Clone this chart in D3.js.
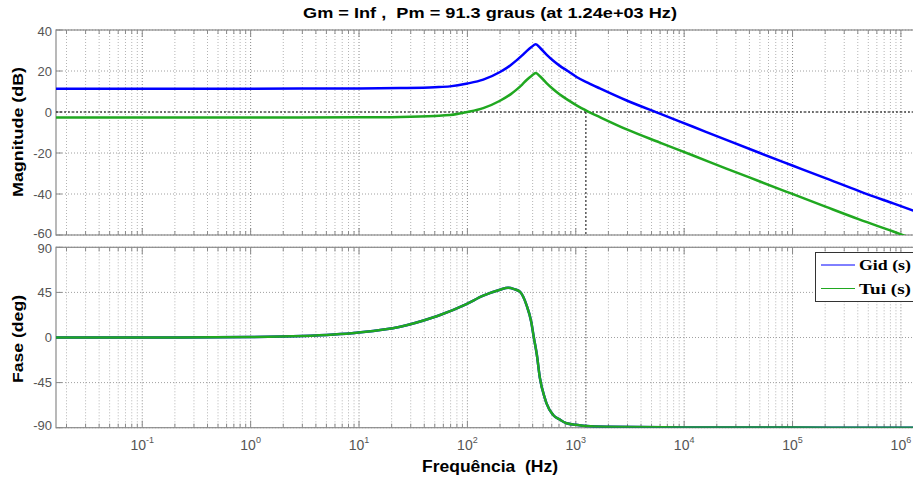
<!DOCTYPE html>
<html>
<head>
<meta charset="utf-8">
<title>Bode</title>
<script src="https://d3js.org/d3.v7.min.js"></script>
<style>
    body { margin: 0px; background: #fff; }
    text { font-family: "Liberation Sans", Arial, sans-serif; }
</style>
</head>
<body>
<script>
    // values (Hz, dB, degrees)
    var magFreq = [0.016, 1, 10, 24, 50, 69, 100, 140, 200, 250, 284, 320, 352, 390, 428, 470, 537, 620, 713, 850,
                   1017, 1300, 1667, 2950, 5970, 12100, 24500, 50000, 101000, 204000, 417000, 850000, 1300000, 1500000];
    var gidMag = [11.4, 11.4, 11.5, 11.7, 12.1, 12.5, 13.9, 15.8, 19.5, 22.8, 25.2, 27.6, 29.7, 31.7, 33, 31.2, 28, 25.0, 22.5, 19.9,
                  17.1, 14.2, 11.5, 5.6, -0.8, -7.2, -13.6, -20, -26.2, -32.4, -38.7, -44.6, -48.1, -49.3];
    var tuiMag = [-2.7, -2.7, -2.6, -2.4, -1.9, -1.5, 0, 1.9, 5.5, 8.6, 10.9, 13.4, 15.6, 17.6, 19, 17.3, 14.1, 11.1, 8.5, 5.8,
                  3.2, 0.2, -2.5, -8.5, -14.9, -21.2, -27.6, -33.9, -40.1, -46.3, -52.5, -58.3, -61.9, -63.1];

    var phaseFreq = [0.016, 0.1, 1, 3, 9.5, 24, 48, 56, 98, 140, 200, 238, 270, 305, 352, 388, 410, 437, 466, 519,
                     537, 619, 713, 822, 1000, 1260, 2000, 10000, 100000, 1500000];
    var gidPhase = [0, 0.05, 0.5, 1.5, 4.8, 10.8, 20, 22.5, 33.4, 41.7, 47.7, 49.6, 48.3, 45.7, 32, 15.8, 0, -17, -40, -60.7,
                    -65.7, -77.3, -82, -85.6, -87, -88.3, -89, -89.7, -89.9, -90];
    // both phase curves lie on top of each other in the picture
    var tuiPhase = [0, 0.05, 0.5, 1.5, 4.8, 10.8, 20, 22.5, 33.4, 41.7, 47.7, 49.6, 48.3, 45.7, 32, 15.8, 0, -17, -40, -60.7,
                    -65.7, -77.3, -82, -85.6, -87, -88.3, -89, -89.7, -89.9, -90];

    var magTicks = [-60, -40, -20, 0, 20, 40];
    var phaseTicks = [-90, -45, 0, 45, 90];
    var decadeLabels = [-1, 0, 1, 2, 3, 4, 5, 6];
    var crossFreq = 1240;
    var seriesNames = ["Gid (s)", "Tui (s)"];
    var seriesColors = ["#0000ff", "#20a820"];

    var left = 56, right = 920;

    var svg = d3.select("body").append("svg")
        .attr("width", 913)
        .attr("height", 482);

    var x = d3.scaleLog().domain([0.016, 1.5e6]).range([left, right]);
    var yMag = d3.scaleLinear().domain([-60, 40]).range([235, 30]);
    var yPh = d3.scaleLinear().domain([-90, 90]).range([427.7, 247.3]);

    // 1..9 x 10^k inside the domain
    var gridFreqs = [];
    for (var k = -2; k <= 6; k++) {
        for (var m = 1; m <= 9; m++) {
            var f = m * Math.pow(10, k);
            if (f >= 0.016 && f <= 1.5e6) gridFreqs.push({f: f, major: m == 1});
        }
    }

    function drawPanel(y, ticks, id) {
        var bottom = y.range()[0], top = y.range()[1];
        var g = svg.append("g");

        svg.append("clipPath").attr("id", id)
            .append("rect").attr("x", left).attr("y", top)
            .attr("width", right - left).attr("height", bottom - top);

        g.selectAll(".vg").data(gridFreqs).join("line")
            .attr("x1", d => x(d.f)).attr("x2", d => x(d.f))
            .attr("y1", top).attr("y2", bottom)
            .attr("stroke", d => d.major ? "#8a8a8a" : "#b4b4b4")
            .attr("stroke-dasharray", "1,2");

        g.selectAll(".hg").data(ticks).join("line")
            .attr("x1", left).attr("x2", right)
            .attr("y1", d => y(d)).attr("y2", d => y(d))
            .attr("stroke", "#a0a0a0")
            .attr("stroke-dasharray", "1,2");

        // tick marks, top and bottom, inside the box
        [top, bottom].forEach(function(edge) {
            var dir = edge == top ? 1 : -1;
            g.selectAll(null).data(gridFreqs).join("line")
                .attr("x1", d => x(d.f)).attr("x2", d => x(d.f))
                .attr("y1", edge).attr("y2", d => edge + dir * (d.major ? 7 : 4))
                .attr("stroke", "#8a8a8a");
        });
        g.selectAll(".yt").data(ticks).join("line")
            .attr("x1", left).attr("x2", left + 6)
            .attr("y1", d => y(d)).attr("y2", d => y(d))
            .attr("stroke", "#8a8a8a");

        // lowest label sits a little higher, top label a little lower (they meet between panels)
        g.selectAll(".yl").data(ticks).join("text")
            .attr("x", 52)
            .attr("y", (d, i) => y(d) + (i == 0 ? 2.5 : i == ticks.length - 1 ? 6 : 4.5))
            .attr("text-anchor", "end")
            .attr("font-size", 13)
            .attr("fill", "#555")
            .text(d => d);

        g.append("rect")
            .attr("x", left).attr("y", top)
            .attr("width", right - left).attr("height", bottom - top)
            .attr("fill", "none")
            .attr("stroke", "#8a8a8a")
            .attr("stroke-width", 1.2);
        return g;
    }

    var gMag = drawPanel(yMag, magTicks, "clipMag");
    var gPh = drawPanel(yPh, phaseTicks, "clipPh");

    // margin markers (0 dB line and crossover frequency)
    gMag.append("line")
        .attr("x1", left).attr("x2", right)
        .attr("y1", yMag(0)).attr("y2", yMag(0))
        .attr("stroke", "#000").attr("stroke-dasharray", "2,2");
    gMag.append("line")
        .attr("x1", x(crossFreq)).attr("x2", x(crossFreq))
        .attr("y1", yMag(0)).attr("y2", yMag(-60))
        .attr("stroke", "#000").attr("stroke-dasharray", "2,2");
    gPh.append("line")
        .attr("x1", x(crossFreq)).attr("x2", x(crossFreq))
        .attr("y1", yPh(90)).attr("y2", yPh(-90))
        .attr("stroke", "#000").attr("stroke-dasharray", "1,2");

    function drawCurve(g, clip, freqs, vals, y, color) {
        var line = d3.line()
            .x(d => x(d[0]))
            .y(d => y(d[1]))
            .curve(d3.curveMonotoneX);
        g.append("path")
            .datum(d3.zip(freqs, vals))
            .attr("clip-path", "url(#" + clip + ")")
            .attr("d", line)
            .attr("fill", "none")
            .attr("stroke", color)
            .attr("stroke-width", 2.5);
    }

    drawCurve(gMag, "clipMag", magFreq, gidMag, yMag, seriesColors[0]);
    drawCurve(gMag, "clipMag", magFreq, tuiMag, yMag, seriesColors[1]);
    drawCurve(gPh, "clipPh", phaseFreq, gidPhase, yPh, seriesColors[0]);
    drawCurve(gPh, "clipPh", phaseFreq, tuiPhase, yPh, seriesColors[1]);

    // x tick labels 10^n
    var xl = svg.selectAll(".xl").data(decadeLabels).join("text")
        .attr("x", d => x(Math.pow(10, d)))
        .attr("y", 450)
        .attr("text-anchor", "middle")
        .attr("fill", "#555")
        .attr("font-size", 14);
    xl.append("tspan").text("10");
    xl.append("tspan").attr("dy", -7).attr("font-size", 9).text(d => d);

    // titles
    svg.append("text")
        .attr("x", 490).attr("y", 18)
        .attr("text-anchor", "middle")
        .style("white-space", "pre")
        .attr("font-size", 15).attr("font-weight", "bold")
        .attr("textLength", 374).attr("lengthAdjust", "spacingAndGlyphs")
        .text("Gm = Inf ,  Pm = 91.3 graus (at 1.24e+03 Hz)");

    svg.append("text")
        .attr("x", 490).attr("y", 472)
        .attr("text-anchor", "middle")
        .style("white-space", "pre")
        .attr("font-size", 16).attr("font-weight", "bold")
        .attr("textLength", 136).attr("lengthAdjust", "spacingAndGlyphs")
        .text("Frequência  (Hz)");

    svg.append("text")
        .attr("transform", "translate(23,132) rotate(-90)")
        .attr("text-anchor", "middle")
        .attr("font-size", 15).attr("font-weight", "bold")
        .attr("textLength", 130).attr("lengthAdjust", "spacingAndGlyphs")
        .text("Magnitude (dB)");

    svg.append("text")
        .attr("transform", "translate(23,339) rotate(-90)")
        .attr("text-anchor", "middle")
        .attr("font-size", 15).attr("font-weight", "bold")
        .attr("textLength", 88).attr("lengthAdjust", "spacingAndGlyphs")
        .text("Fase (deg)");

    // legend
    var leg = svg.append("g");
    leg.append("rect")
        .attr("x", 815.5).attr("y", 252.5)
        .attr("width", 110).attr("height", 49)
        .attr("fill", "#fff").attr("stroke", "#333");
    seriesNames.forEach(function(name, i) {
        var ly = 265 + i * 23.5;
        leg.append("line")
            .attr("x1", 821).attr("x2", 855)
            .attr("y1", ly).attr("y2", ly)
            .attr("stroke", seriesColors[i]);
        leg.append("text")
            .attr("x", 859).attr("y", ly + 5)
            .style("font-family", "'Liberation Serif', 'Times New Roman', serif")
            .style("white-space", "pre")
            .attr("font-size", 15).attr("font-weight", "bold")
            .attr("textLength", 52).attr("lengthAdjust", "spacingAndGlyphs")
            .text(name);
    });
</script>
</body>
</html>
